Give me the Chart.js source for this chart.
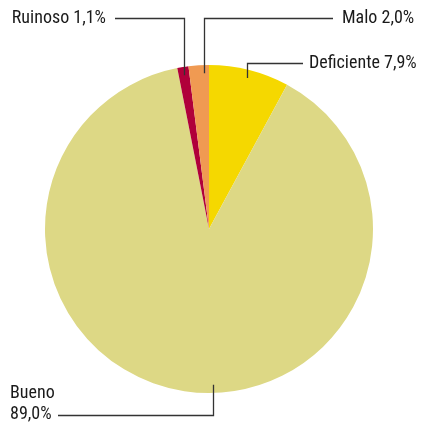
<!DOCTYPE html>
<html>
<head>
<meta charset="utf-8">
<script src="https://cdn.jsdelivr.net/npm/chart.js@4"></script>
<style>
html,body{margin:0;padding:0;background:#fff;}
#wrap{width:421px;height:423px;position:relative;}
</style>
</head>
<body>
<div id="wrap"><canvas id="c" width="421" height="423"></canvas></div>
<script>
const categories = ["Deficiente", "Bueno", "Ruinoso", "Malo"];
const values = [7.9, 89.0, 1.1, 2.0];
const valueLabels = ["7,9%", "89,0%", "1,1%", "2,0%"];
const colors = ["#F5D800", "#DDD885", "#B0003A", "#F09A52"];

// label layout (style/position config)
const labelLayout = [
  {frac:0.5,  lines:["Deficiente 7,9%"], tx:309, ty:63, align:"left",  elbowY:63, endX:303},
  {frac:0.469,lines:["Bueno","89,0%"],   tx:10,  ty:393,align:"left",  elbowY:415,endX:58},
  {frac:0.5,  lines:["Ruinoso 1,1%"],    tx:106, ty:18, align:"right", elbowY:18, endX:115},
  {frac:0.75, lines:["Malo 2,0%"],       tx:342, ty:18, align:"left",  elbowY:18, endX:333}
];

const FONT = '18px "Liberation Sans Narrow", "Arial Narrow", "Roboto Condensed", "DejaVu Sans Condensed", sans-serif';

const leaderPlugin = {
  id: 'leaders',
  afterDatasetsDraw(chart) {
    const ctx = chart.ctx;
    const meta = chart.getDatasetMeta(0);
    ctx.save();
    meta.data.forEach((arc, i) => {
      const L = labelLayout[i];
      const p = arc.getProps(['x','y','startAngle','endAngle','outerRadius'], true);
      const a = p.startAngle + (p.endAngle - p.startAngle) * L.frac;
      const r = p.outerRadius * 0.95;
      const ax = p.x + Math.cos(a) * r;
      const ay = p.y + Math.sin(a) * r;
      ctx.strokeStyle = '#333';
      ctx.lineWidth = 1.3;
      ctx.beginPath();
      ctx.moveTo(Math.round(ax)+0.5, ay);
      ctx.lineTo(Math.round(ax)+0.5, L.elbowY + 0.5);
      ctx.lineTo(L.endX, L.elbowY + 0.5);
      ctx.stroke();
      ctx.fillStyle = '#1a1a1a';
      ctx.font = FONT;
      ctx.textAlign = L.align;
      ctx.textBaseline = 'middle';
      L.lines.forEach((t, k) => ctx.fillText(t, L.tx, L.ty + k * 21));
    });
    ctx.restore();
  }
};

new Chart(document.getElementById('c'), {
  type: 'pie',
  data: {
    labels: categories,
    datasets: [{
      data: values,
      backgroundColor: colors,
      borderWidth: 0
    }]
  },
  options: {
    responsive: false,
    animation: false,
    layout: {padding: {top: 65, bottom: 30, left: 45, right: 48}},
    plugins: {legend: {display: false}, tooltip: {enabled: false}}
  },
  plugins: [leaderPlugin]
});
</script>
</body>
</html>
